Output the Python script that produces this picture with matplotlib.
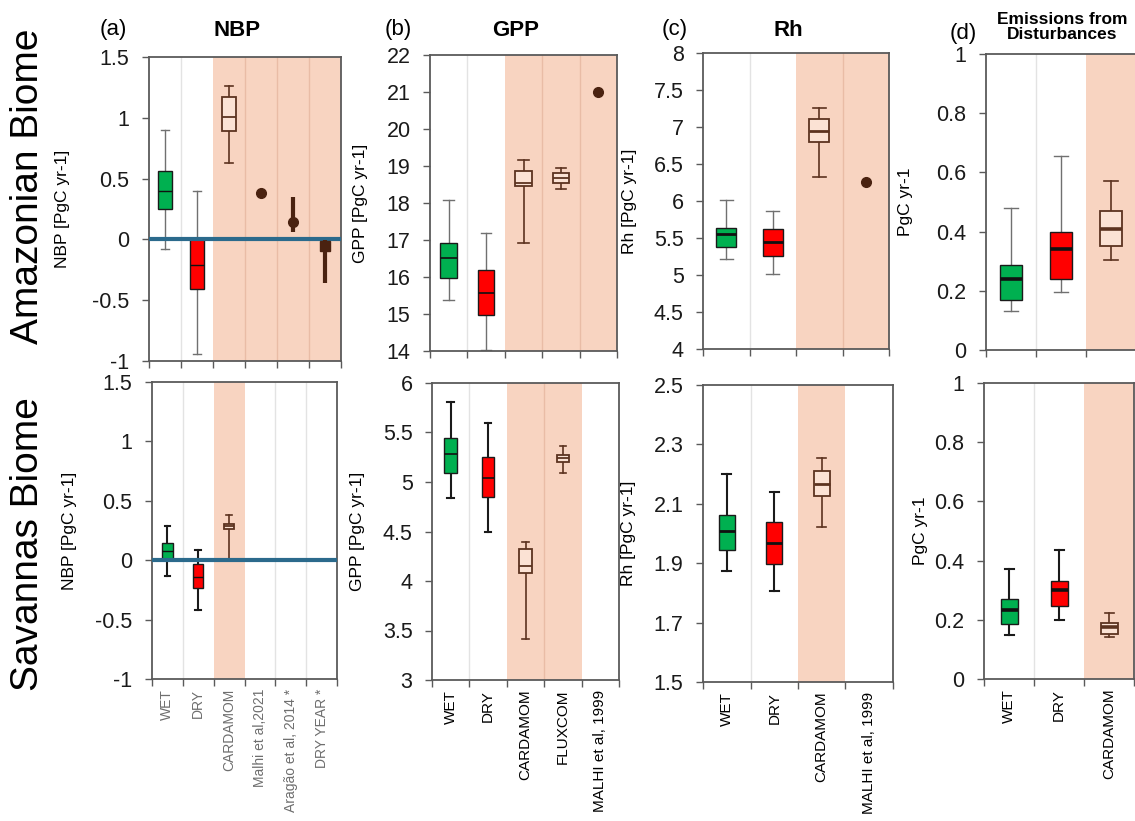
import matplotlib
matplotlib.use("Agg")
import matplotlib.pyplot as plt
import numpy as np

plt.rcParams['font.family'] = ['Liberation Sans', 'DejaVu Sans']
plt.rcParams['axes.unicode_minus'] = False

# ------------------------------------------------------------------ data
nbp_cats = ["WET", "DRY", "CARDAMOM", "Malhi et al,2021", "Aragão et al, 2014 *", "DRY YEAR *"]
gpp_cats = ["WET", "DRY", "CARDAMOM", "FLUXCOM", "MALHI et al, 1999"]
rh_cats = ["WET", "DRY", "CARDAMOM", "MALHI et al, 1999"]
dist_cats = ["WET", "DRY", "CARDAMOM"]

# NBP - Amazon
nbp_amz_box_cats = ["WET", "DRY", "CARDAMOM"]
nbp_amz_lo = [-0.08, -0.94, 0.63]
nbp_amz_q1 = [0.25, -0.41, 0.89]
nbp_amz_med = [0.40, -0.21, 1.01]
nbp_amz_q3 = [0.56, 0.00, 1.17]
nbp_amz_hi = [0.90, 0.40, 1.265]
nbp_amz_pt_cats = ["Malhi et al,2021", "Aragão et al, 2014 *", "DRY YEAR *"]
nbp_amz_pt = [0.38, 0.143, -0.054]
nbp_amz_pt_lo = [np.nan, 0.06, -0.36]
nbp_amz_pt_hi = [np.nan, 0.35, -0.005]
nbp_amz_shaded = ["CARDAMOM", "Malhi et al,2021", "Aragão et al, 2014 *", "DRY YEAR *"]

# NBP - Savannas
nbp_sav_box_cats = ["WET", "DRY", "CARDAMOM"]
nbp_sav_lo = [-0.13, -0.42, 0.011]
nbp_sav_q1 = [0.005, -0.237, 0.263]
nbp_sav_med = [0.078, -0.14, 0.285]
nbp_sav_q3 = [0.148, -0.036, 0.307]
nbp_sav_hi = [0.285, 0.084, 0.377]
nbp_sav_shaded = ["CARDAMOM"]

# GPP - Amazon
gpp_amz_box_cats = ["WET", "DRY", "CARDAMOM", "FLUXCOM"]
gpp_amz_lo = [15.37, 14.04, 16.93, 18.38]
gpp_amz_q1 = [15.96, 14.97, 18.46, 18.54]
gpp_amz_med = [16.50, 15.58, 18.55, 18.68]
gpp_amz_q3 = [16.92, 16.18, 18.87, 18.81]
gpp_amz_hi = [18.08, 17.18, 19.16, 18.95]
gpp_amz_pt_cats = ["MALHI et al, 1999"]
gpp_amz_pt = [21.0]
gpp_amz_shaded = ["CARDAMOM", "FLUXCOM", "MALHI et al, 1999"]

# GPP - Savannas
gpp_sav_box_cats = ["WET", "DRY", "CARDAMOM", "FLUXCOM"]
gpp_sav_lo = [4.84, 4.50, 3.41, 5.09]
gpp_sav_q1 = [5.09, 4.85, 4.085, 5.20]
gpp_sav_med = [5.28, 5.04, 4.155, 5.24]
gpp_sav_q3 = [5.44, 5.25, 4.32, 5.27]
gpp_sav_hi = [5.81, 5.60, 4.39, 5.36]
gpp_sav_shaded = ["CARDAMOM", "FLUXCOM"]

# Rh - Amazon
rh_amz_box_cats = ["WET", "DRY", "CARDAMOM"]
rh_amz_lo = [5.21, 5.01, 6.32]
rh_amz_q1 = [5.38, 5.26, 6.80]
rh_amz_med = [5.55, 5.45, 6.94]
rh_amz_q3 = [5.64, 5.62, 7.11]
rh_amz_hi = [6.02, 5.87, 7.26]
rh_amz_pt_cats = ["MALHI et al, 1999"]
rh_amz_pt = [6.25]
rh_amz_shaded = ["CARDAMOM", "MALHI et al, 1999"]

# Rh - Savannas
rh_sav_box_cats = ["WET", "DRY", "CARDAMOM"]
rh_sav_lo = [1.875, 1.805, 2.023]
rh_sav_q1 = [1.946, 1.897, 2.127]
rh_sav_med = [2.009, 1.968, 2.166]
rh_sav_q3 = [2.063, 2.040, 2.210]
rh_sav_hi = [2.200, 2.141, 2.253]
rh_sav_shaded = ["CARDAMOM"]

# Emissions from disturbances - Amazon
dist_amz_box_cats = ["WET", "DRY", "CARDAMOM"]
dist_amz_lo = [0.133, 0.195, 0.304]
dist_amz_q1 = [0.169, 0.240, 0.353]
dist_amz_med = [0.239, 0.340, 0.408]
dist_amz_q3 = [0.287, 0.398, 0.470]
dist_amz_hi = [0.481, 0.654, 0.572]
dist_amz_shaded = ["CARDAMOM"]

# Emissions from disturbances - Savannas
dist_sav_box_cats = ["WET", "DRY", "CARDAMOM"]
dist_sav_lo = [0.149, 0.201, 0.143]
dist_sav_q1 = [0.185, 0.248, 0.151]
dist_sav_med = [0.232, 0.299, 0.176]
dist_sav_q3 = [0.269, 0.332, 0.190]
dist_sav_hi = [0.371, 0.436, 0.222]
dist_sav_shaded = ["CARDAMOM"]

nbp_yticks = [-1, -0.5, 0, 0.5, 1, 1.5]
gpp_amz_yticks = [14, 15, 16, 17, 18, 19, 20, 21, 22]
gpp_sav_yticks = [3, 3.5, 4, 4.5, 5, 5.5, 6]
rh_amz_yticks = [4, 4.5, 5, 5.5, 6, 6.5, 7, 7.5, 8]
rh_sav_yticks = [1.5, 1.7, 1.9, 2.1, 2.3, 2.5]
dist_yticks = [0, 0.2, 0.4, 0.6, 0.8, 1]

# ------------------------------------------------------------------ style
SHADE = '#f8d4c1'
SHADE_LINE = '#e9bca6'
GRID = '#e3e3e3'
SPINE = '#5a5a5a'
BROWN = '#5c3320'
DARK = '#4a2210'
GREEN = '#00b050'
RED = '#ff0000'
BLUE = '#2b6a8c'

W, H = 1135, 821
fig = plt.figure(figsize=(W / 100, H / 100), dpi=100)


def axes_px(x0, y0, x1, y1):
    return fig.add_axes([x0 / W, 1 - y1 / H, (x1 - x0) / W, (y1 - y0) / H])


def draw(ax, cats, box_cats, lo, q1, med, q3, hi, shaded, yticks, top,
         pt_cats=(), pts=(), pt_lo=None, pt_hi=None, med_lw=1.2,
         ylabel='', ylab_x=-0.4, xlab_color='black', zero_line=False,
         box_w=None, xlab_size=11):
    n = len(cats)
    ax.set_xlim(0.5, n + 0.5)
    ax.set_ylim(yticks[0], yticks[-1])
    # shading and category separators
    for c in shaded:
        i = cats.index(c) + 1
        ax.axvspan(i - 0.5, i + 0.5, color=SHADE, lw=0, zorder=0)
    for b in range(1, n):
        left_sh = cats[b - 1] in shaded
        right_sh = cats[b] in shaded
        if left_sh and right_sh:
            ax.axvline(b + 0.5, color=SHADE_LINE, lw=1, zorder=0.5)
        elif not left_sh and not right_sh:
            ax.axvline(b + 0.5, color=GRID, lw=1, zorder=0.5)
    if zero_line:
        ax.axhline(0, color=BLUE, lw=3, zorder=4)
    # boxes
    stats = []
    for c, a, b_, m, d, e in zip(box_cats, lo, q1, med, q3, hi):
        stats.append(dict(label=c, whislo=a, q1=b_, med=m, q3=d, whishi=e, fliers=[]))
    pos = [cats.index(c) + 1 for c in box_cats]
    wdef = 0.44 if top else 0.34
    widths = [box_w.get(c, wdef) if box_w else wdef for c in box_cats]
    capw = [0.28 if top else 0.18] * len(box_cats)
    art = ax.bxp(stats, positions=pos, widths=widths, capwidths=capw,
                 patch_artist=True, showfliers=False, manage_ticks=False)
    wcol = '#707070' if top else '#1a1a1a'
    wlw = 1.0 if top else 1.5
    for k, c in enumerate(box_cats):
        box = art['boxes'][k]
        lines = art['whiskers'][2 * k:2 * k + 2] + art['caps'][2 * k:2 * k + 2]
        if c == 'WET' or c == 'DRY':
            box.set_facecolor(GREEN if c == 'WET' else RED)
            box.set_edgecolor('#1a1a1a')
            box.set_linewidth(1.0)
            art['medians'][k].set_color('#111111')
            art['medians'][k].set_linewidth(med_lw)
            for ln in lines:
                ln.set_color(wcol)
                ln.set_linewidth(wlw)
        else:
            box.set_facecolor('#fbe2d4')
            box.set_edgecolor(BROWN)
            box.set_linewidth(1.3)
            art['medians'][k].set_color(BROWN)
            art['medians'][k].set_linewidth(max(med_lw, 1.3))
            for ln in lines:
                ln.set_color(BROWN)
                ln.set_linewidth(1.2)
        box.set_zorder(3)
        art['medians'][k].set_zorder(3.5)
    # point observations
    for k, c in enumerate(pt_cats):
        x = cats.index(c) + 1
        if pt_lo is not None and not np.isnan(pt_lo[k]):
            ax.vlines(x, pt_lo[k], pt_hi[k], color=DARK, lw=3, zorder=5)
        mk = 's' if c.startswith('DRY YEAR') else 'o'
        ax.plot([x], [pts[k]], marker=mk, ms=7 if mk == 'o' else 6.5,
                color=DARK, ls='none', zorder=6)
    # ticks
    ax.set_xticks(np.arange(0.5, n + 1, 1.0))
    ax.set_xticklabels([])
    ax.tick_params(axis='x', which='major', length=5, width=1, color=SPINE, direction='out')
    if not top:
        ax.set_xticks(np.arange(1, n + 1), cats, minor=True)
        ax.tick_params(axis='x', which='minor', length=0, labelsize=xlab_size,
                       labelrotation=90, pad=7, labelcolor=xlab_color)
    ax.set_yticks(yticks)
    ax.set_yticklabels([f"{v:g}" for v in yticks])
    ax.tick_params(axis='y', length=5, width=1, color=SPINE, labelsize=15.5,
                   pad=9, labelcolor='#1a1a1a')
    for s in ax.spines.values():
        s.set_color(SPINE)
        s.set_linewidth(1.3)
    ax.set_ylabel(ylabel, fontsize=12.5)
    ax.yaxis.set_label_coords(ylab_x, 0.5)


# panel (a) NBP
ax = axes_px(149, 57, 341, 361)
draw(ax, nbp_cats, nbp_amz_box_cats, nbp_amz_lo, nbp_amz_q1, nbp_amz_med, nbp_amz_q3,
     nbp_amz_hi, nbp_amz_shaded, nbp_yticks, True, nbp_amz_pt_cats, nbp_amz_pt,
     nbp_amz_pt_lo, nbp_amz_pt_hi, med_lw=1.0, ylabel='NBP [PgC yr-1]', ylab_x=-0.41,
     zero_line=True, box_w={'WET': 0.45, 'DRY': 0.45, 'CARDAMOM': 0.45})
ax = axes_px(152, 382, 337, 679)
draw(ax, nbp_cats, nbp_sav_box_cats, nbp_sav_lo, nbp_sav_q1, nbp_sav_med, nbp_sav_q3,
     nbp_sav_hi, nbp_sav_shaded, nbp_yticks, False, med_lw=1.0,
     ylabel='NBP [PgC yr-1]', ylab_x=-0.405, xlab_color='#6e6e6e', zero_line=True,
     xlab_size=10)

# panel (b) GPP
ax = axes_px(430, 55, 617, 351)
draw(ax, gpp_cats, gpp_amz_box_cats, gpp_amz_lo, gpp_amz_q1, gpp_amz_med, gpp_amz_q3,
     gpp_amz_hi, gpp_amz_shaded, gpp_amz_yticks, True, gpp_amz_pt_cats, gpp_amz_pt,
     med_lw=1.2, ylabel='GPP [PgC yr-1]', ylab_x=-0.33)
ax = axes_px(432, 383, 619, 680)
draw(ax, gpp_cats, gpp_sav_box_cats, gpp_sav_lo, gpp_sav_q1, gpp_sav_med, gpp_sav_q3,
     gpp_sav_hi, gpp_sav_shaded, gpp_sav_yticks, False, med_lw=1.2,
     ylabel='GPP [PgC yr-1]', ylab_x=-0.36, box_w={'FLUXCOM': 0.31})

# panel (c) Rh
ax = axes_px(703, 53, 889, 349)
draw(ax, rh_cats, rh_amz_box_cats, rh_amz_lo, rh_amz_q1, rh_amz_med, rh_amz_q3,
     rh_amz_hi, rh_amz_shaded, rh_amz_yticks, True, rh_amz_pt_cats, rh_amz_pt,
     med_lw=2.0, ylabel='Rh [PgC yr-1]', ylab_x=-0.355)
ax = axes_px(703, 385, 893, 682)
draw(ax, rh_cats, rh_sav_box_cats, rh_sav_lo, rh_sav_q1, rh_sav_med, rh_sav_q3,
     rh_sav_hi, rh_sav_shaded, rh_sav_yticks, False, med_lw=2.0,
     ylabel='Rh [PgC yr-1]', ylab_x=-0.35)

# panel (d) Emissions from disturbances
ax = axes_px(986, 54, 1136, 350)
draw(ax, dist_cats, dist_amz_box_cats, dist_amz_lo, dist_amz_q1, dist_amz_med, dist_amz_q3,
     dist_amz_hi, dist_amz_shaded, dist_yticks, True, med_lw=2.6,
     ylabel='PgC yr-1', ylab_x=-0.487)
ax = axes_px(984, 383, 1134, 679)
draw(ax, dist_cats, dist_sav_box_cats, dist_sav_lo, dist_sav_q1, dist_sav_med, dist_sav_q3,
     dist_sav_hi, dist_sav_shaded, dist_yticks, False, med_lw=2.6,
     ylabel='PgC yr-1', ylab_x=-0.373)

# titles and row labels
def ftext(x, y, s, **kw):
    fig.text(x / W, 1 - y / H, s, ha='center', va='center', **kw)

ftext(113, 30, '(a)', fontsize=16)
ftext(237, 30, 'NBP', fontsize=16, fontweight='bold')
ftext(398, 30, '(b)', fontsize=16)
ftext(516, 30, 'GPP', fontsize=16, fontweight='bold')
ftext(675, 30, '(c)', fontsize=16)
ftext(788, 30, 'Rh', fontsize=16, fontweight='bold')
ftext(963, 33, '(d)', fontsize=16)
ftext(1062, 27, 'Emissions from\nDisturbances', fontsize=12.5, fontweight='bold',
      linespacing=1.0)
ftext(28, 186, 'Amazonian Biome', fontsize=28, rotation=90)
ftext(28, 544, 'Savannas Biome', fontsize=28, rotation=90)

fig.savefig('out.png', dpi=100)
